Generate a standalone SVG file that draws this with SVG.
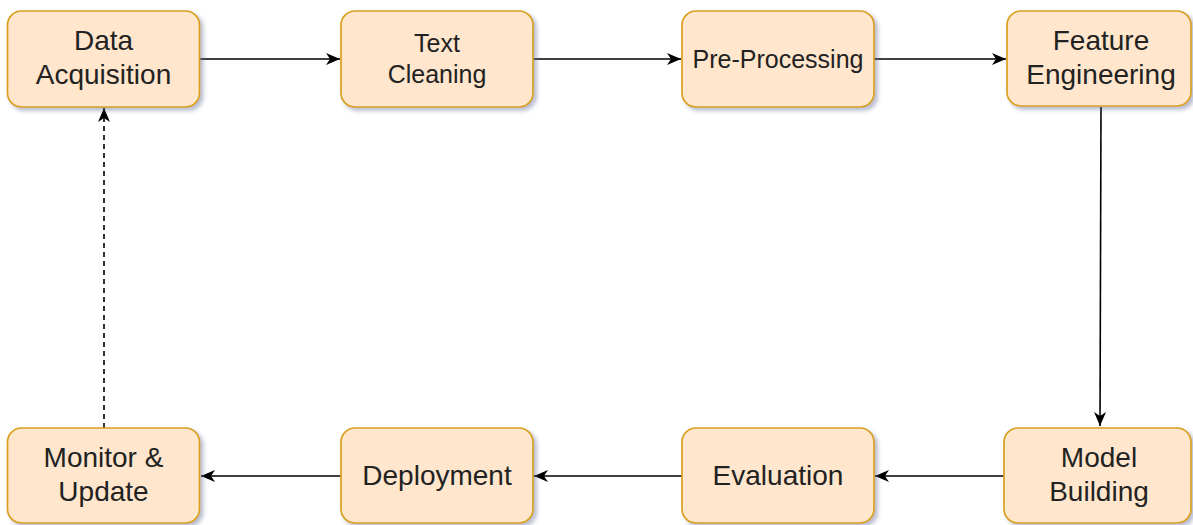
<svg xmlns="http://www.w3.org/2000/svg" width="1193" height="525" viewBox="0 0 1193 525">
  <style>
    .box { fill: #ffe6cc; stroke: #d9a01f; stroke-width: 1.7; filter: url(#shadow); }
    .lbl { font-family: "Liberation Sans", Arial, sans-serif; fill: #222; text-anchor: middle; }
    .lg { font-size: 28px; }
    .sm { font-size: 25px; }
    .edge { fill: none; stroke: #000; stroke-width: 1.6; }
    .dash { stroke-dasharray: 5 4; }
  </style>
  <defs>
    <filter id="shadow" x="-10%" y="-10%" width="130%" height="130%">
      <feDropShadow dx="3" dy="3" stdDeviation="2.2" flood-color="#5a6890" flood-opacity="0.45"/>
    </filter>
    <marker id="arrow" markerUnits="userSpaceOnUse" markerWidth="15" markerHeight="13" refX="14" refY="6.5" orient="auto">
      <path d="M0,0.5 L14,6.5 L0,12.5 L4,6.5 Z" fill="#000"/>
    </marker>
  </defs>

  <g id="connectors">
    <line class="edge" x1="200" y1="59" x2="340" y2="59" marker-end="url(#arrow)"/>
    <line class="edge" x1="533" y1="59" x2="681" y2="59" marker-end="url(#arrow)"/>
    <line class="edge" x1="874" y1="59" x2="1006" y2="59" marker-end="url(#arrow)"/>
    <line class="edge" x1="1101" y1="107" x2="1100" y2="426" marker-end="url(#arrow)"/>
    <line class="edge" x1="1004" y1="476" x2="875" y2="476" marker-end="url(#arrow)"/>
    <line class="edge" x1="682" y1="476" x2="534" y2="476" marker-end="url(#arrow)"/>
    <line class="edge" x1="341" y1="476" x2="201" y2="476" marker-end="url(#arrow)"/>
    <line class="edge dash" x1="104" y1="428" x2="104" y2="108" marker-end="url(#arrow)"/>
  </g>

  <g id="data-acquisition">
    <rect class="box" x="7.5" y="11" width="192" height="96" rx="14"/>
    <text class="lbl lg" x="103.5" y="50">Data</text>
    <text class="lbl lg" x="103.5" y="84">Acquisition</text>
  </g>
  <g id="text-cleaning">
    <rect class="box" x="341" y="11" width="192" height="96" rx="14"/>
    <text class="lbl sm" x="437" y="52">Text</text>
    <text class="lbl sm" x="437" y="83">Cleaning</text>
  </g>
  <g id="pre-processing">
    <rect class="box" x="682" y="11" width="192" height="96" rx="14"/>
    <text class="lbl sm" x="778" y="68">Pre-Processing</text>
  </g>
  <g id="feature-engineering">
    <rect class="box" x="1007" y="11" width="184" height="95" rx="14"/>
    <text class="lbl lg" x="1101" y="50">Feature</text>
    <text class="lbl lg" x="1101" y="84">Engineering</text>
  </g>
  <g id="model-building">
    <rect class="box" x="1004" y="428" width="187" height="95" rx="14"/>
    <text class="lbl lg" x="1099" y="467">Model</text>
    <text class="lbl lg" x="1099" y="501">Building</text>
  </g>
  <g id="evaluation">
    <rect class="box" x="682" y="428" width="192" height="95" rx="14"/>
    <text class="lbl lg" x="778" y="485">Evaluation</text>
  </g>
  <g id="deployment">
    <rect class="box" x="341" y="428" width="192" height="95" rx="14"/>
    <text class="lbl lg" x="437" y="485">Deployment</text>
  </g>
  <g id="monitor-update">
    <rect class="box" x="7.5" y="428" width="192" height="95" rx="14"/>
    <text class="lbl lg" x="103.5" y="467">Monitor &amp;</text>
    <text class="lbl lg" x="103.5" y="501">Update</text>
  </g>
</svg>
